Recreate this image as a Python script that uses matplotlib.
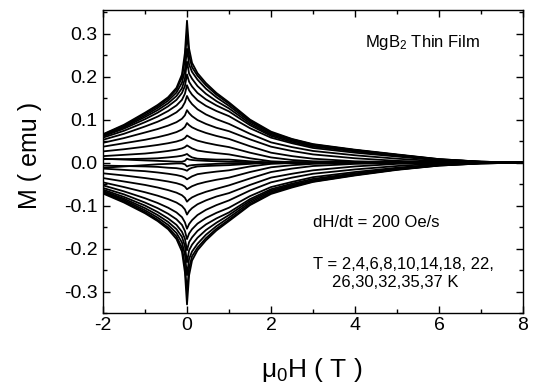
import matplotlib
matplotlib.use("Agg")
import matplotlib.pyplot as plt
from matplotlib.ticker import MultipleLocator

plt.rcParams['font.family'] = ['Liberation Sans', 'DejaVu Sans']
plt.rcParams['mathtext.fontset'] = 'custom'
plt.rcParams['mathtext.rm'] = 'Liberation Sans'
plt.rcParams['mathtext.it'] = 'Liberation Sans'
plt.rcParams['axes.unicode_minus'] = False

# Field grid (T)
H = [-2.0, -1.5, -1.0, -0.7, -0.45, -0.25, -0.12, -0.05, 0.0,
     0.05, 0.12, 0.25, 0.45, 0.7, 1.0, 1.5, 2.0, 2.5, 3.0, 4.0, 5.0, 6.0, 7.0, 8.0]

temps = [2, 4, 6, 8, 10, 14, 18, 22, 26, 30, 32, 35, 37]

# Upper (field-decreasing) branches, M in emu
m_up_2  = [0.066, 0.088, 0.116, 0.134, 0.152, 0.174, 0.205, 0.255, 0.330, 0.265, 0.232, 0.208, 0.185, 0.162, 0.140, 0.100, 0.072, 0.055, 0.043, 0.030, 0.019, 0.008, 0.002, 0.000]
m_up_4  = [0.065, 0.086, 0.114, 0.131, 0.149, 0.170, 0.198, 0.240, 0.300, 0.248, 0.222, 0.202, 0.180, 0.158, 0.137, 0.098, 0.070, 0.054, 0.042, 0.029, 0.018, 0.008, 0.002, 0.000]
m_up_6  = [0.064, 0.084, 0.110, 0.127, 0.144, 0.163, 0.186, 0.215, 0.265, 0.228, 0.211, 0.193, 0.172, 0.152, 0.132, 0.095, 0.068, 0.053, 0.041, 0.029, 0.018, 0.007, 0.002, 0.000]
m_up_8  = [0.063, 0.082, 0.106, 0.122, 0.138, 0.155, 0.173, 0.195, 0.235, 0.207, 0.195, 0.178, 0.160, 0.143, 0.126, 0.091, 0.065, 0.051, 0.039, 0.028, 0.017, 0.007, 0.002, 0.000]
m_up_10 = [0.061, 0.079, 0.101, 0.116, 0.131, 0.146, 0.162, 0.178, 0.205, 0.188, 0.177, 0.162, 0.147, 0.133, 0.119, 0.087, 0.062, 0.048, 0.037, 0.026, 0.016, 0.006, 0.001, 0.000]
m_up_14 = [0.058, 0.074, 0.094, 0.107, 0.120, 0.133, 0.146, 0.160, 0.180, 0.168, 0.158, 0.145, 0.132, 0.120, 0.108, 0.080, 0.058, 0.045, 0.034, 0.023, 0.014, 0.005, 0.001, 0.000]
m_up_18 = [0.053, 0.067, 0.084, 0.095, 0.106, 0.117, 0.128, 0.140, 0.155, 0.145, 0.136, 0.124, 0.112, 0.101, 0.090, 0.067, 0.047, 0.036, 0.027, 0.017, 0.009, 0.003, 0.000, 0.000]
m_up_22 = [0.046, 0.057, 0.070, 0.078, 0.086, 0.094, 0.102, 0.110, 0.122, 0.115, 0.108, 0.099, 0.090, 0.081, 0.073, 0.054, 0.037, 0.027, 0.019, 0.010, 0.004, 0.001, 0.000, 0.000]
m_up_26 = [0.037, 0.045, 0.053, 0.059, 0.065, 0.071, 0.077, 0.083, 0.092, 0.087, 0.082, 0.076, 0.069, 0.062, 0.055, 0.038, 0.023, 0.015, 0.009, 0.003, 0.001, 0.000, 0.000, 0.000]
m_up_30 = [0.026, 0.031, 0.037, 0.041, 0.045, 0.049, 0.053, 0.057, 0.063, 0.060, 0.056, 0.051, 0.046, 0.041, 0.036, 0.023, 0.012, 0.006, 0.003, 0.001, 0.000, 0.000, 0.000, 0.000]
m_up_32 = [0.015, 0.018, 0.021, 0.024, 0.027, 0.030, 0.033, 0.036, 0.040, 0.037, 0.033, 0.028, 0.025, 0.022, 0.019, 0.010, 0.003, 0.001, 0.000, 0.000, 0.000, 0.000, 0.000, 0.000]
m_up_35 = [0.008, 0.008, 0.009, 0.010, 0.012, 0.014, 0.016, 0.018, 0.020, 0.016, 0.012, 0.009, 0.008, 0.007, 0.007, 0.003, 0.000, 0.000, 0.000, 0.000, 0.000, 0.000, 0.000, 0.000]
m_up_37 = [0.009, 0.007, 0.005, 0.004, 0.003, 0.002, 0.002, 0.004, 0.009, 0.007, 0.006, 0.005, 0.004, 0.003, 0.002, 0.001, 0.000, 0.000, 0.000, 0.000, 0.000, 0.000, 0.000, 0.000]

# Lower (field-increasing) branches
m_dn_2  = [-0.072, -0.093, -0.118, -0.136, -0.155, -0.178, -0.207, -0.255, -0.330, -0.262, -0.228, -0.204, -0.181, -0.158, -0.136, -0.099, -0.073, -0.058, -0.045, -0.030, -0.017, -0.007, -0.002, 0.000]
m_dn_4  = [-0.070, -0.090, -0.115, -0.133, -0.151, -0.172, -0.198, -0.240, -0.300, -0.245, -0.218, -0.198, -0.176, -0.154, -0.133, -0.097, -0.071, -0.056, -0.044, -0.029, -0.016, -0.007, -0.002, 0.000]
m_dn_6  = [-0.068, -0.087, -0.111, -0.128, -0.145, -0.164, -0.186, -0.214, -0.262, -0.224, -0.207, -0.189, -0.168, -0.148, -0.128, -0.093, -0.068, -0.054, -0.043, -0.028, -0.016, -0.006, -0.002, 0.000]
m_dn_8  = [-0.066, -0.084, -0.106, -0.122, -0.138, -0.155, -0.173, -0.194, -0.232, -0.204, -0.191, -0.175, -0.157, -0.140, -0.122, -0.089, -0.065, -0.052, -0.041, -0.027, -0.015, -0.006, -0.001, 0.000]
m_dn_10 = [-0.063, -0.080, -0.100, -0.115, -0.130, -0.145, -0.161, -0.177, -0.204, -0.185, -0.174, -0.159, -0.144, -0.130, -0.116, -0.085, -0.062, -0.049, -0.038, -0.025, -0.014, -0.005, -0.001, 0.000]
m_dn_14 = [-0.059, -0.074, -0.093, -0.106, -0.119, -0.132, -0.145, -0.159, -0.178, -0.165, -0.155, -0.142, -0.129, -0.117, -0.105, -0.078, -0.057, -0.045, -0.034, -0.022, -0.012, -0.004, -0.001, 0.000]
m_dn_18 = [-0.053, -0.067, -0.083, -0.094, -0.105, -0.116, -0.127, -0.139, -0.154, -0.143, -0.134, -0.122, -0.110, -0.099, -0.088, -0.065, -0.046, -0.035, -0.026, -0.016, -0.008, -0.002, 0.000, 0.000]
m_dn_22 = [-0.046, -0.057, -0.069, -0.077, -0.085, -0.093, -0.101, -0.109, -0.121, -0.113, -0.106, -0.097, -0.088, -0.079, -0.071, -0.052, -0.035, -0.026, -0.018, -0.009, -0.003, -0.001, 0.000, 0.000]
m_dn_26 = [-0.036, -0.044, -0.052, -0.058, -0.064, -0.070, -0.076, -0.082, -0.091, -0.086, -0.081, -0.075, -0.068, -0.061, -0.053, -0.037, -0.022, -0.014, -0.008, -0.003, -0.001, 0.000, 0.000, 0.000]
m_dn_30 = [-0.025, -0.030, -0.036, -0.040, -0.044, -0.048, -0.052, -0.056, -0.062, -0.059, -0.055, -0.050, -0.045, -0.040, -0.035, -0.022, -0.011, -0.006, -0.003, -0.001, 0.000, 0.000, 0.000, 0.000]
m_dn_32 = [-0.014, -0.017, -0.020, -0.023, -0.026, -0.029, -0.032, -0.035, -0.039, -0.036, -0.032, -0.027, -0.024, -0.021, -0.018, -0.009, -0.003, -0.001, 0.000, 0.000, 0.000, 0.000, 0.000, 0.000]
m_dn_35 = [-0.007, -0.008, -0.009, -0.010, -0.012, -0.013, -0.015, -0.017, -0.019, -0.015, -0.012, -0.009, -0.008, -0.007, -0.006, -0.003, 0.000, 0.000, 0.000, 0.000, 0.000, 0.000, 0.000, 0.000]
m_dn_37 = [-0.012, -0.009, -0.006, -0.004, -0.003, -0.002, -0.002, -0.004, -0.009, -0.007, -0.006, -0.005, -0.004, -0.003, -0.002, -0.001, 0.000, 0.000, 0.000, 0.000, 0.000, 0.000, 0.000, 0.000]

upper = [m_up_2, m_up_4, m_up_6, m_up_8, m_up_10, m_up_14, m_up_18, m_up_22,
         m_up_26, m_up_30, m_up_32, m_up_35, m_up_37]
lower = [m_dn_2, m_dn_4, m_dn_6, m_dn_8, m_dn_10, m_dn_14, m_dn_18, m_dn_22,
         m_dn_26, m_dn_30, m_dn_32, m_dn_35, m_dn_37]

fig = plt.figure(figsize=(5.34, 3.88), dpi=100)
ax = fig.add_axes([103/534, 1 - 313/388, 420/534, 303/388])

for mu, md in zip(upper, lower):
    ax.plot(H, mu, color='black', lw=1.3)
    ax.plot(H, md, color='black', lw=1.3)

ax.set_xlim(-2, 8)
ax.set_ylim(-0.35, 0.355)
ax.xaxis.set_major_locator(MultipleLocator(2))
ax.xaxis.set_minor_locator(MultipleLocator(1))
ax.yaxis.set_minor_locator(MultipleLocator(0.05))
ax.set_yticks([-0.3, -0.2, -0.1, 0.0, 0.1, 0.2, 0.3])
ax.set_yticklabels(['-0.3', '-0.2', '-0.1', '0.0', '0.1', '0.2', '0.3'])
ax.tick_params(which='both', direction='in', top=True, right=True, width=1)
ax.tick_params(which='major', length=5, labelsize=14)
ax.tick_params(axis='y', which='major', pad=4)
ax.tick_params(axis='x', which='major', pad=3)
ax.tick_params(which='minor', length=3)
for s in ax.spines.values():
    s.set_linewidth(1.0)

fig.text(312/534, 1 - 377/388, r'$\mathrm{μ_0}$H ( T )', fontsize=19,
         ha='center', va='baseline')
fig.text(30/534, 1 - 155/388, 'M ( emu )', fontsize=18, rotation=90,
         ha='center', va='center')

ax.text(4.24, 0.279, r'MgB$_2$ Thin Film', fontsize=12, ha='left', va='center')
ax.text(3.0, -0.140, 'dH/dt = 200 Oe/s', fontsize=12, ha='left', va='center')
ax.text(3.0, -0.237, 'T = 2,4,6,8,10,14,18, 22,', fontsize=12, ha='left', va='center')
ax.text(3.45, -0.279, '26,30,32,35,37 K', fontsize=12, ha='left', va='center')

fig.savefig('out.png', dpi=100)
